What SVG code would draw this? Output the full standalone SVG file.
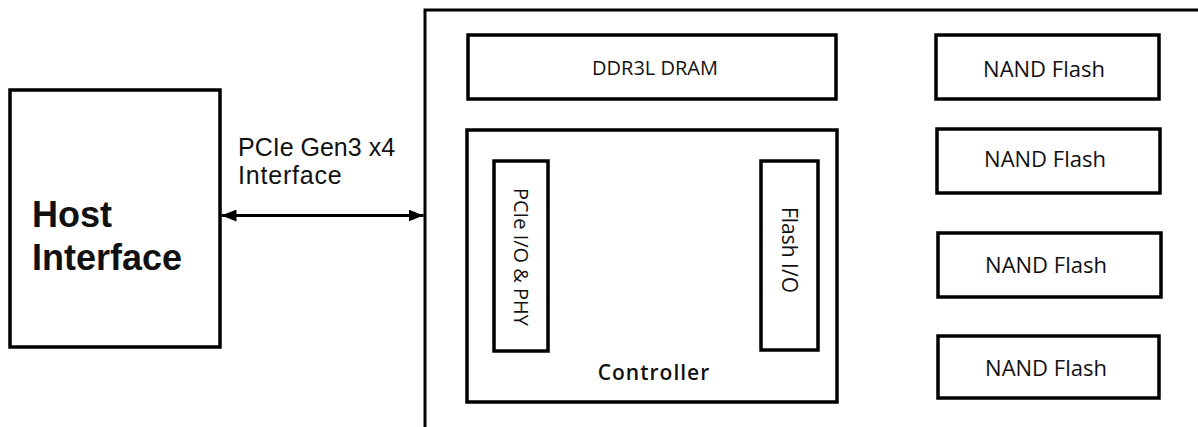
<svg xmlns="http://www.w3.org/2000/svg" width="1198" height="427" viewBox="0 0 1198 427">
<style>
.box{fill:#fff;stroke:#000;stroke-width:3.5}
.t{font-family:"Open Sans","Noto Sans","Liberation Sans",sans-serif;fill:#111;font-size:20px}
.n{font-size:22px}
.lbl{font-family:"Liberation Sans",Arial,sans-serif;font-size:25px;fill:#111}
.ctl{font-size:21px;font-weight:600;letter-spacing:1px}
.fio{font-size:21px}
.h{font-family:"Liberation Sans",Arial,sans-serif;font-weight:bold;font-size:36px;fill:#111}
.line{stroke:#000;stroke-width:3;fill:none}
</style>
<defs>
<marker id="ah" viewBox="0 0 15 12" refX="15" refY="6" markerWidth="15" markerHeight="12" markerUnits="userSpaceOnUse" orient="auto-start-reverse">
<path d="M0,0 L15,6 L0,12 z" fill="#000"/>
</marker>
</defs>
<rect width="1198" height="427" fill="#fff"/>
<g id="host">
<rect class="box" x="10" y="90" width="210" height="257"/>
<text class="h" x="32" y="227">Host<tspan x="32" y="270">Interface</tspan></text>
</g>
<g id="ssd">
<rect class="box" x="425" y="10" width="790" height="430" style="stroke-width:3"/>
</g>
<g id="dram">
<rect class="box" x="468" y="35" width="368" height="64"/>
<text class="t" x="655" y="75" text-anchor="middle">DDR3L DRAM</text>
</g>
<g id="controller">
<rect class="box" x="467" y="130" width="370" height="272"/>
<text class="t ctl" x="654" y="380" text-anchor="middle">Controller</text>
</g>
<g id="pcie-io">
<rect class="box" x="494" y="161" width="54" height="190"/>
<text class="t" transform="translate(514,257) rotate(90)" text-anchor="middle">PCIe I/O &amp; PHY</text>
</g>
<g id="flash-io">
<rect class="box" x="761" y="161" width="57" height="189"/>
<text class="t fio" transform="translate(782,250) rotate(90)" text-anchor="middle">Flash I/O</text>
</g>
<g id="nand1">
<rect class="box" x="936" y="35" width="223" height="64"/>
<text class="t n" x="1044" y="77" text-anchor="middle">NAND Flash</text>
</g>
<g id="nand2">
<rect class="box" x="937" y="129" width="223" height="64"/>
<text class="t n" x="1045" y="167" text-anchor="middle">NAND Flash</text>
</g>
<g id="nand3">
<rect class="box" x="938" y="233" width="223" height="64"/>
<text class="t n" x="1046" y="273" text-anchor="middle">NAND Flash</text>
</g>
<g id="nand4">
<rect class="box" x="938" y="336" width="221" height="62"/>
<text class="t n" x="1046" y="376" text-anchor="middle">NAND Flash</text>
</g>
<g id="connectors">
<line class="line" x1="221.5" y1="215.5" x2="423.5" y2="215.5" marker-start="url(#ah)" marker-end="url(#ah)"/>
<text class="lbl" x="238" y="156">PCIe Gen3 x4<tspan x="238" y="184" letter-spacing="0.8">Interface</tspan></text>
</g>
</svg>
